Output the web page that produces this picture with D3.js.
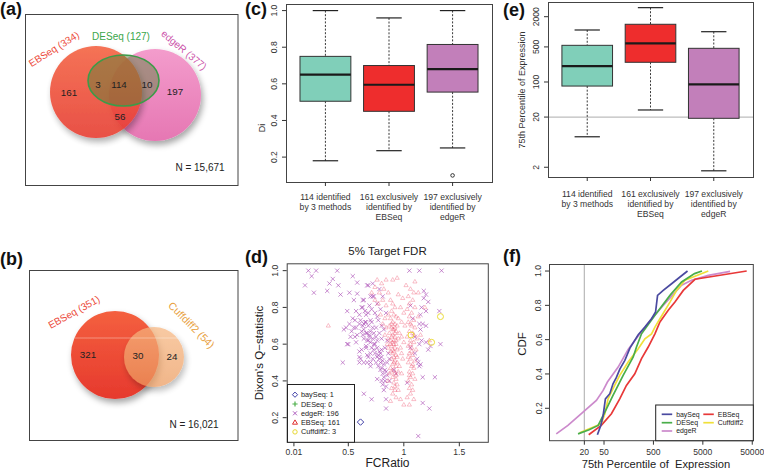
<!DOCTYPE html>
<html><head><meta charset="utf-8">
<script src="https://cdn.jsdelivr.net/npm/d3@7"></script>
<style>
body{margin:0;background:#fff;}
svg text{font-family:"Liberation Sans",Arial,Helvetica,sans-serif;}
</style></head><body>
<svg id="fig" width="764" height="474"></svg>
<script>
// ---------------- DATA ----------------
const vennASets = ["EBSeq (334)", "DESeq (127)", "edgeR (377)"];
const vennARegions = [161, 3, 114, 10, 197, 56];
const vennATotal = "N = 15,671";
const vennBSets = ["EBSeq (351)", "Cuffdiff2 (54)"];
const vennBRegions = [321, 30, 24];
const vennBTotal = "N = 16,021";

const boxCategories = [["114 identified","by 3 methods"],["161 exclusively","identified by","EBSeq"],["197 exclusively","identified by","edgeR"]];
// (c) Di
const diLow  = [0.18, 0.235, 0.25];
const diQ1   = [0.505, 0.45, 0.555];
const diMed  = [0.65, 0.595, 0.68];
const diQ3   = [0.75, 0.70, 0.815];
const diHigh = [1.0, 0.96, 1.0];
const diOutliers = [[], [], [0.1]];
const diTicks = [0.2, 0.4, 0.6, 0.8, 1.0];
// (e) 75th percentile of expression
const exLow  = [8.1, 27.7, 1.7];
const exQ1   = [83, 247, 18.9];
const exMed  = [208, 590, 90];
const exQ3   = [538, 1413, 469];
const exHigh = [1087, 3030, 1005];
const exTicks = [2, 20, 100, 500, 2000];
const exRefLine = 20;

// (d) scatter: [FCRatio, Dixon's Q]
const scatterTitle = "5% Target FDR";
const fcTicks = [0.01, 0.5, 1, 1.5];
const qTicks = [0.2, 0.4, 0.6, 0.8, 1.0];
const baySeqPts = [[0.61, 0.176]];
const deseqPts = [];
const cuffdiffPts = [[1.33, 0.75], [1.065, 0.65], [1.25, 0.61]];
const edgeRPts = [
[0.14,1.0],[0.21,1.0],[0.40,1.0],[1.05,1.0],[1.14,1.0],[1.34,1.0],
[0.17,0.97],[0.54,0.97],[0.36,0.955],[0.33,0.93],[0.58,0.935],[0.11,0.92],[0.41,0.92],[0.67,0.92],[0.31,0.89],[0.19,0.88],[0.43,0.87],[0.51,0.88],[0.58,0.875],[0.70,0.86],[0.72,0.86],[0.55,0.84],[0.63,0.84],[0.49,0.78],[0.57,0.78],[0.63,0.80],[0.69,0.81],[0.66,0.76],[0.60,0.76],[0.54,0.74],[0.48,0.69],[0.55,0.69],[0.64,0.71],[0.70,0.73],[0.58,0.65],[0.67,0.66],[0.50,0.60],[0.60,0.56],[0.67,0.62],[0.73,0.60],
[0.62,0.80],[0.65,0.78],[0.68,0.77],[0.71,0.79],[0.74,0.77],[0.61,0.73],[0.63,0.70],[0.66,0.72],[0.68,0.70],[0.71,0.72],[0.72,0.69],[0.62,0.67],[0.64,0.68],[0.66,0.66],[0.69,0.65],[0.70,0.67],[0.73,0.66],[0.75,0.64],[0.64,0.63],[0.68,0.62],[0.70,0.61],[0.72,0.63],[0.74,0.60],[0.76,0.62],[0.66,0.59],[0.71,0.58],[0.73,0.57],[0.76,0.58],[0.78,0.56],[0.77,0.54],[0.79,0.55],[0.80,0.53],[0.78,0.52],[0.81,0.51],[0.79,0.50],[0.82,0.49],[0.80,0.47],[0.83,0.46],[0.81,0.44],[0.84,0.45],[0.82,0.42],[0.85,0.43],[0.83,0.40],[0.81,0.38],[0.84,0.37],[0.82,0.35],[0.80,0.57],[0.76,0.53],[0.74,0.55],[0.75,0.50],[0.77,0.48],[0.79,0.46],[0.72,0.52],[0.70,0.55],[0.68,0.53],[0.67,0.50],[0.70,0.48],[0.69,0.64],[0.75,0.69],[0.77,0.73],[0.78,0.66],[0.76,0.75],[0.80,0.70],[0.82,0.68],[0.85,0.62],[0.80,0.63],[0.83,0.58],[0.86,0.55],[0.87,0.52],[0.85,0.50],
[0.45,0.50],[0.60,0.50],[0.64,0.50],[0.61,0.52],[0.64,0.33],[0.71,0.30],[0.84,0.30],[0.84,0.25],[0.49,0.60],[0.56,0.73],[0.51,0.71],[0.57,0.69],[0.60,0.71],[0.65,0.72],[0.56,0.64],[0.63,0.65],[0.46,0.68],[0.52,0.64],[0.53,0.67],[0.57,0.61],[0.60,0.53],[0.67,0.54],[0.70,0.50],[0.66,0.58],[0.62,0.57],[0.76,0.41],[0.80,0.40],[0.87,0.40],
[0.72,0.93],[0.68,0.92],[0.73,0.86],[0.64,0.84],[0.78,0.90],[0.81,0.86],[0.76,0.82],[0.79,0.79],[0.84,0.77],
[1.18,0.89],[1.20,0.87],[1.22,0.83],[1.16,0.80],[1.20,0.78],[1.32,0.78],[1.15,0.76],[1.14,0.71],[1.17,0.71],[1.20,0.70],[1.06,0.81],[1.33,0.60],[1.14,0.60],[1.22,0.57],[1.10,0.64],[1.16,0.62],[1.20,0.61],[1.24,0.59],[1.15,0.68],[1.08,0.74],[1.17,0.42],[1.28,0.42],[1.17,0.28],[1.23,0.25],[1.13,0.10],[1.14,0.48],[1.13,0.50],[1.15,0.49],[1.12,0.52],[1.10,0.55],[1.06,0.58],[1.18,0.85],
[0.93,0.44],[0.91,0.46],[1.03,0.39]
];
const ebseqPts = [
[0.88,0.84],[0.90,0.82],[0.92,0.80],[0.89,0.78],[0.91,0.76],[0.93,0.75],[0.88,0.74],[0.90,0.72],[0.92,0.71],[0.94,0.70],[0.89,0.69],[0.91,0.68],[0.93,0.67],[0.87,0.66],[0.90,0.65],[0.92,0.64],[0.95,0.63],[0.88,0.62],[0.90,0.61],[0.91,0.60],[0.93,0.60],[0.89,0.59],[0.92,0.58],[0.94,0.57],[0.88,0.56],[0.90,0.55],[0.93,0.54],[0.91,0.53],[0.89,0.52],[0.92,0.51],[0.94,0.50],[0.90,0.49],[0.93,0.48],[0.88,0.47],[0.91,0.46],[0.95,0.45],[0.92,0.44],[0.90,0.42],[0.93,0.41],[0.91,0.39],[0.94,0.38],[0.89,0.36],[0.92,0.35],[0.90,0.33],[0.93,0.31],[0.96,0.66],[0.97,0.58],[0.86,0.58],[0.87,0.70],[0.95,0.74],
[1.06,0.90],[1.09,0.88],[1.04,0.86],[1.08,0.84],[1.05,0.82],[1.10,0.80],[1.03,0.79],[1.07,0.77],[1.05,0.75],[1.09,0.73],[1.04,0.72],[1.07,0.70],[1.10,0.69],[1.05,0.67],[1.08,0.66],[1.03,0.64],[1.06,0.62],[1.09,0.61],[1.04,0.59],[1.07,0.58],[1.11,0.57],[1.05,0.55],[1.08,0.54],[1.06,0.52],[1.10,0.51],[1.04,0.50],[1.07,0.48],[1.09,0.47],[1.05,0.45],[1.08,0.44],[1.06,0.42],[1.10,0.41],[1.04,0.40],[1.07,0.38],[1.05,0.36],[1.08,0.35],[1.06,0.33],[1.03,0.31],[1.09,0.30],[1.12,0.63],[1.13,0.75],
[0.76,0.95],[0.80,0.93],[0.84,0.95],[0.94,0.96],[1.02,0.92],[0.78,0.88],[0.82,0.90],[0.86,0.88],[0.95,0.87],[0.99,0.85],[0.74,0.84],[0.77,0.82],[0.81,0.84],[0.84,0.81],[0.97,0.80],[1.00,0.77],[0.79,0.76],[0.83,0.74],[0.86,0.76],[0.98,0.72],[1.01,0.70],[0.81,0.71],[0.84,0.69],[0.98,0.64],[1.00,0.61],[0.83,0.65],[0.86,0.63],[0.85,0.60],[0.98,0.55],[0.99,0.52],[0.96,0.48],[0.98,0.44],[0.87,0.44],[0.86,0.40],[0.95,0.35],[0.97,0.30],[1.00,0.27],[0.88,0.29],[1.05,0.27],[0.32,0.70],[1.15,0.65],[1.23,0.62],[1.13,0.88],[1.19,0.80],[0.71,0.88],[0.74,0.91],[1.10,0.94],[0.90,0.95],
[0.89,0.64],[0.91,0.62],[0.90,0.57],[0.92,0.66],[0.89,0.71],[0.93,0.62],[0.91,0.56],[0.88,0.60],[0.92,0.69],[0.90,0.68],[0.94,0.53],[0.91,0.50],[0.89,0.45],[0.93,0.43],[0.92,0.37],[1.06,0.60],[1.08,0.49],[1.05,0.43],[1.07,0.56],[1.04,0.53],[1.09,0.65],[1.06,0.71]
];
const scatterLegend = ["baySeq: 1", "DESeq: 0", "edgeR: 196", "EBSeq: 161", "Cuffdiff2: 3"];

// (f) CDF curves: [75th percentile, CDF]
const cdfTicksX = [20, 50, 500, 5000, 50000];
const cdfTicksY = [0.2, 0.4, 0.6, 0.8, 1.0];
const cdfRefLine = 20;
const cdfBaySeq = [[36.7,0.046],[43,0.1],[48,0.158],[53.3,0.255],[65.5,0.285],[76,0.343],[89,0.38],[105,0.43],[132,0.479],[167,0.551],[246,0.629],[336,0.673],[458,0.722],[552,0.761],[606,0.858],[789,0.887],[1165,0.926],[1722,0.965],[2450,1.0]];
const cdfDESeq = [[14.9,0.051],[25,0.075],[38,0.1],[56,0.197],[76,0.275],[122,0.392],[195,0.499],[227,0.557],[287,0.634],[537,0.742],[1080,0.858],[1857,0.936],[3400,0.985],[4800,1.0]];
const cdfEdgeR = [[5.4,0.051],[9.3,0.1],[18.8,0.178],[35,0.246],[48,0.304],[58.6,0.353],[96.6,0.44],[154,0.543],[246,0.621],[458,0.722],[789,0.8],[1857,0.917],[2956,0.946],[6450,0.975],[17800,0.998]];
const cdfEBSeq = [[24.5,0.046],[44,0.1],[70.6,0.168],[104,0.255],[142,0.333],[210,0.401],[287,0.489],[392,0.557],[536,0.634],[677,0.703],[997,0.771],[1363,0.819],[2010,0.887],[3470,0.952],[38600,1.0]];
const cdfCuffdiff2 = [[16.1,0.057],[44,0.11],[52,0.168],[60.5,0.255],[76,0.314],[104,0.392],[154,0.47],[246,0.547],[336,0.605],[458,0.634],[536,0.673],[677,0.722],[1080,0.819],[1470,0.887],[2170,0.946],[6450,1.0]];
const cdfNames = ["baySeq", "DESeq", "edgeR", "EBSeq", "Cuffdiff2"];

// ---------------- DRAWING ----------------
const svg = d3.select("#fig");
const TXT = "#222";
const defs = svg.append("defs");
const sh = defs.append("filter").attr("id","shadow").attr("x","-30%").attr("y","-30%").attr("width","170%").attr("height","180%");
sh.append("feDropShadow").attr("dx",2).attr("dy",4).attr("stdDeviation",3).attr("flood-color","#000").attr("flood-opacity",0.35);
function lg(id, c1, c2){
  const g = defs.append("linearGradient").attr("id",id).attr("x1",0).attr("y1",0).attr("x2",0).attr("y2",1);
  g.append("stop").attr("offset","0%").attr("stop-color",c1);
  g.append("stop").attr("offset","100%").attr("stop-color",c2);
}
lg("redG","#f4603f","#e6392d");
lg("pinkG","#f39ccc","#e677b3");
lg("orangeG","#f6b680","#ec9a5d");

function text(g, x, y, s, size, opts={}) {
  const t = g.append("text").attr("x",x).attr("y",y).text(s)
    .attr("font-size",size).attr("fill",opts.fill||TXT)
    .attr("text-anchor",opts.anchor||"middle");
  if (opts.rotate!==undefined) t.attr("transform",`rotate(${opts.rotate},${x},${y})`);
  if (opts.dy) t.attr("dy",opts.dy);
  if (opts.weight) t.attr("font-weight",opts.weight);
  if (opts.pre) t.style("white-space","pre");
  return t;
}

// panel labels
[["(a)",0,15],["(b)",0,265],["(c)",245,15],["(d)",245,263],["(e)",503,16],["(f)",503,262]]
  .forEach(d => text(svg, d[1], d[2], d[0], 18, {anchor:"start", weight:"bold", fill:"#111"}));

// ---- (a) Venn ----
{
  const g = svg.append("g");
  g.append("rect").attr("x",25.5).attr("y",14.5).attr("width",212.5).attr("height",171).attr("fill","none").attr("stroke","#444").attr("stroke-width",1);
  g.append("circle").attr("cx",155).attr("cy",95).attr("r",46).attr("fill","url(#pinkG)").attr("filter","url(#shadow)");
  g.append("circle").attr("cx",96).attr("cy",92).attr("r",46).attr("fill","url(#redG)").attr("opacity",0.88).attr("filter","url(#shadow)");
  g.append("ellipse").attr("cx",123.5).attr("cy",80.5).attr("rx",35.5).attr("ry",25.5)
    .attr("fill","rgb(80,130,50)").attr("fill-opacity",0.45).attr("stroke","#3d9b48").attr("stroke-width",1.6);
  text(g, 54, 49, vennASets[0], 10, {fill:"#ec4a3a", rotate:-32, dy:"0.35em"});
  text(g, 121, 36, vennASets[1], 10, {fill:"#3aa64a", dy:"0.35em"});
  text(g, 184, 50, vennASets[2], 10, {fill:"#cc55aa", rotate:40, dy:"0.35em"});
  const pos = [[69,93],[98,85],[119,85],[147,85],[175,92],[120,117]];
  vennARegions.forEach((v,i)=> text(g, pos[i][0], pos[i][1], v, 9.8, {dy:"0.35em"}));
  text(g, 200, 167, vennATotal, 10, {dy:"0.35em"});
}
// ---- (b) Venn ----
{
  const g = svg.append("g");
  g.append("rect").attr("x",29.5).attr("y",270.5).attr("width",208.5).attr("height",170).attr("fill","none").attr("stroke","#444").attr("stroke-width",1);
  g.append("circle").attr("cx",115).attr("cy",355).attr("r",44).attr("fill","url(#redG)").attr("filter","url(#shadow)");
  g.append("circle").attr("cx",154).attr("cy",357).attr("r",30).attr("fill","url(#orangeG)").attr("opacity",0.72).attr("filter","url(#shadow)");
  g.append("line").attr("x1",72).attr("x2",180).attr("y1",338).attr("y2",338).attr("stroke","#fff").attr("stroke-opacity",0.45).attr("stroke-width",0.8);
  text(g, 74, 312, vennBSets[0], 10, {fill:"#ec4a3a", rotate:-29, dy:"0.35em"});
  text(g, 191.5, 325, vennBSets[1], 10.5, {fill:"#e8a040", rotate:45, dy:"0.35em"});
  const pos = [[88,355],[138,356],[172,357]];
  vennBRegions.forEach((v,i)=> text(g, pos[i][0], pos[i][1], v, 9.8, {dy:"0.35em"}));
  text(g, 194, 424, vennBTotal, 10, {dy:"0.35em"});
}

// ---- box plot helper ----
const boxColors = ["#80cfb9", "#ee2d2d", "#c27fba"];
function boxPanel(x, y, lo, q1, med, q3, hi, outl, labY, ticks, tickFmt, tickLabelX) {
  const g = svg.append("g");
  const [x0, x1] = x.range(), [y0, y1] = y.range();
  g.append("rect").attr("x",x0+0.5).attr("y",y1+0.5).attr("width",x1-x0).attr("height",y0-y1).attr("fill","none").attr("stroke","#444");
  for (let i=0;i<3;i++){
    const c=i+1, cx=x(c);
    g.append("line").attr("x1",cx).attr("x2",cx).attr("y1",y(hi[i])).attr("y2",y(q3[i])).attr("stroke","#222").attr("stroke-dasharray","2,1.6").attr("stroke-width",0.9);
    g.append("line").attr("x1",cx).attr("x2",cx).attr("y1",y(q1[i])).attr("y2",y(lo[i])).attr("stroke","#222").attr("stroke-dasharray","2,1.6").attr("stroke-width",0.9);
    [hi[i], lo[i]].forEach(v=> g.append("line").attr("x1",x(c-0.2)).attr("x2",x(c+0.2)).attr("y1",y(v)).attr("y2",y(v)).attr("stroke","#222").attr("stroke-width",1.2));
    g.append("rect").attr("x",x(c-0.4)).attr("y",y(q3[i])).attr("width",x(c+0.4)-x(c-0.4)).attr("height",y(q1[i])-y(q3[i]))
      .attr("fill",boxColors[i]).attr("stroke","#333").attr("stroke-width",1);
    g.append("line").attr("x1",x(c-0.4)).attr("x2",x(c+0.4)).attr("y1",y(med[i])).attr("y2",y(med[i])).attr("stroke","#1a1a1a").attr("stroke-width",2.2);
    outl[i].forEach(v=> g.append("circle").attr("cx",cx).attr("cy",y(v)).attr("r",1.8).attr("fill","none").attr("stroke","#222").attr("stroke-width",0.9));
    g.append("line").attr("x1",cx).attr("x2",cx).attr("y1",y0).attr("y2",y0+4).attr("stroke","#333");
    boxCategories[i].forEach((s,k)=> text(g, cx, labY + k*10, s, 8.6, {fill:"#333"}));
  }
  ticks.forEach(t=>{
    g.append("line").attr("x1",x0-4).attr("x2",x0).attr("y1",y(t)).attr("y2",y(t)).attr("stroke","#333");
    text(g, tickLabelX, y(t), tickFmt(t), 8.6, {rotate:-90, dy:"0.35em", fill:"#333"});
  });
  return g;
}

// ---- (c) ----
{
  const x = d3.scaleLinear().domain([0.38,3.62]).range([286,492]);
  const y = d3.scaleLinear().domain([0.064,1.036]).range([182,4]);
  const g = boxPanel(x, y, diLow, diQ1, diMed, diQ3, diHigh, diOutliers, 200, diTicks, d3.format(".1f"), 274);
  text(g, 262, 128, "Di", 9, {rotate:-90, dy:"0.35em", fill:"#333"});
}
// ---- (e) ----
{
  const x = d3.scaleLinear().domain([0.38,3.62]).range([548,753]);
  const y = d3.scaleLog().domain([Math.pow(10,0.107), Math.pow(10,3.594)]).range([177,2]);
  const g = svg.append("g");
  g.append("line").attr("x1",548).attr("x2",753).attr("y1",y(exRefLine)).attr("y2",y(exRefLine)).attr("stroke","#bdbdbd").attr("stroke-width",1.4);
  const g2 = boxPanel(x, y, exLow, exQ1, exMed, exQ3, exHigh, [[],[],[]], 196.5, exTicks, d=>String(d), 536);
  text(g2, 522, 90, "75th Percentile of Expression", 9, {rotate:-90, dy:"0.35em", fill:"#333"});
}

// ---- (d) scatter ----
{
  const g = svg.append("g");
  const x = d3.scaleLinear().domain([-0.055,1.761]).range([286.7,488.3]);
  const y = d3.scaleLinear().domain([0.066,1.04]).range([442.3,263.3]);
  const clip = defs.append("clipPath").attr("id","clipD");
  clip.append("rect").attr("x",286.7).attr("y",263.3).attr("width",201.6).attr("height",179);
  const pg = g.append("g").attr("clip-path","url(#clipD)");
  const cross = "M-2.1,-2.1L2.1,2.1M-2.1,2.1L2.1,-2.1";
  const tri = "M0,-2.3L2.1,1.3L-2.1,1.3Z";
  pg.selectAll(".e").data(edgeRPts).enter().append("path").attr("d",cross)
    .attr("transform",d=>`translate(${x(d[0])},${y(d[1])})`).attr("stroke","rgb(176,88,186)").attr("stroke-opacity",0.68).attr("stroke-width",1).attr("fill","none");
  pg.selectAll(".t").data(ebseqPts).enter().append("path").attr("d",tri)
    .attr("transform",d=>`translate(${x(d[0])},${y(d[1])})`).attr("stroke","rgb(236,70,100)").attr("stroke-opacity",0.42).attr("stroke-width",0.8).attr("fill","none");
  pg.selectAll(".p").data(deseqPts).enter().append("path").attr("d","M-2.5,0L2.5,0M0,-2.5L0,2.5")
    .attr("transform",d=>`translate(${x(d[0])},${y(d[1])})`).attr("stroke","#4daf4a");
  pg.selectAll(".c").data(cuffdiffPts).enter().append("circle").attr("cx",d=>x(d[0])).attr("cy",d=>y(d[1])).attr("r",3)
    .attr("fill","none").attr("stroke","#ebdc3a").attr("stroke-width",1);
  pg.selectAll(".b").data(baySeqPts).enter().append("path").attr("d","M0,-3.2L3.2,0L0,3.2L-3.2,0Z")
    .attr("transform",d=>`translate(${x(d[0])},${y(d[1])})`).attr("fill","none").attr("stroke","#4040a8").attr("stroke-width",1);
  g.append("rect").attr("x",287.2).attr("y",263.8).attr("width",201.1).attr("height",178.5).attr("fill","none").attr("stroke","#444");
  // legend
  const lx = 287.5, ly = 384.5;
  g.append("rect").attr("x",lx).attr("y",ly).attr("width",67).attr("height",442.3-ly).attr("fill","#fff").attr("stroke","#222");
  const sym = [
    s=>s.append("path").attr("d","M0,-2.6L2.6,0L0,2.6L-2.6,0Z").attr("fill","none").attr("stroke","#4040a8"),
    s=>s.append("path").attr("d","M-2.6,0L2.6,0M0,-2.6L0,2.6").attr("stroke","#4daf4a").attr("stroke-width",1.2),
    s=>s.append("path").attr("d","M-2,-2L2,2M-2,2L2,-2").attr("stroke","#b060c0"),
    s=>s.append("path").attr("d","M0,-2.7L2.5,1.6L-2.5,1.6Z").attr("fill","none").attr("stroke","#e03030"),
    s=>s.append("circle").attr("r",2.2).attr("fill","none").attr("stroke","#e8d830")
  ];
  scatterLegend.forEach((s,i)=>{
    const yy = 394.7 + i*9.3;
    sym[i](g.append("g").attr("transform",`translate(295,${yy})`));
    text(g, 301, yy, s, 7.3, {anchor:"start", dy:"0.35em"});
  });
  // axes
  fcTicks.forEach(t=>{
    g.append("line").attr("x1",x(t)).attr("x2",x(t)).attr("y1",442.3).attr("y2",446.3).attr("stroke","#333");
    text(g, x(t), 451.7, String(t), 8.6, {dy:"0.35em", fill:"#333"});
  });
  qTicks.forEach(t=>{
    g.append("line").attr("x1",282.7).attr("x2",286.7).attr("y1",y(t)).attr("y2",y(t)).attr("stroke","#333");
    text(g, 275, y(t), d3.format(".1f")(t), 8.6, {rotate:-90, dy:"0.35em", fill:"#333"});
  });
  text(g, 387.5, 251, scatterTitle, 11.5, {dy:"0.35em"});
  text(g, 387.5, 463, "FCRatio", 12, {dy:"0.35em"});
  text(g, 259, 353, "Dixon's Q\u2212statistic", 11.5, {rotate:-90, dy:"0.35em"});
}

// ---- (f) CDF ----
{
  const g = svg.append("g");
  const x = d3.scaleLog().domain([3.85,52500]).range([549,753.3]);
  const y = d3.scaleLinear().domain([0.011,1.041]).range([440.7,264]);
  g.append("line").attr("x1",x(cdfRefLine)).attr("x2",x(cdfRefLine)).attr("y1",264).attr("y2",440.7).attr("stroke","#bdbdbd").attr("stroke-width",1.3);
  const line = d3.line().x(d=>x(d[0])).y(d=>y(d[1]));
  const series = [[cdfEdgeR,"#cc8acc"],[cdfEBSeq,"#e83838"],[cdfCuffdiff2,"#f0e03a"],[cdfDESeq,"#4aae4a"],[cdfBaySeq,"#4a4aa0"]];
  series.forEach(s=> g.append("path").attr("d",line(s[0])).attr("fill","none").attr("stroke",s[1]).attr("stroke-width",1.7));
  g.append("rect").attr("x",549.5).attr("y",264.5).attr("width",203.8).attr("height",176.2).attr("fill","none").attr("stroke","#444");
  cdfTicksX.forEach(t=>{
    g.append("line").attr("x1",x(t)).attr("x2",x(t)).attr("y1",440.7).attr("y2",444.7).attr("stroke","#333");
    text(g, x(t), 451.7, String(t), 8.6, {dy:"0.35em", fill:"#333"});
  });
  cdfTicksY.forEach(t=>{
    g.append("line").attr("x1",545).attr("x2",549).attr("y1",y(t)).attr("y2",y(t)).attr("stroke","#333");
    text(g, 538.5, y(t), d3.format(".1f")(t), 8.6, {rotate:-90, dy:"0.35em", fill:"#333"});
  });
  text(g, 522, 344, "CDF", 11.5, {rotate:-90, dy:"0.35em"});
  text(g, 656, 464, "75th Percentile of  Expression", 11.2, {dy:"0.35em", pre:true});
  // legend
  g.append("rect").attr("x",655.7).attr("y",405).attr("width",97.6).attr("height",35.7).attr("fill","#fff").attr("stroke","#222");
  const legPos = [[661.7,414.3],[661.7,422.7],[661.7,431],[703.3,414.3],[703.3,422.7]];
  const legCol = {"baySeq":"#4a4aa0","DESeq":"#4aae4a","edgeR":"#cc8acc","EBSeq":"#e83838","Cuffdiff2":"#f0e03a"};
  cdfNames.forEach((n,i)=>{
    const [lx,ly]=legPos[i];
    g.append("line").attr("x1",lx).attr("x2",lx+10.5).attr("y1",ly).attr("y2",ly).attr("stroke",legCol[n]).attr("stroke-width",1.7);
    text(g, lx+14.5, ly, n, 6.9, {anchor:"start", dy:"0.35em"});
  });
}
</script></body></html>
